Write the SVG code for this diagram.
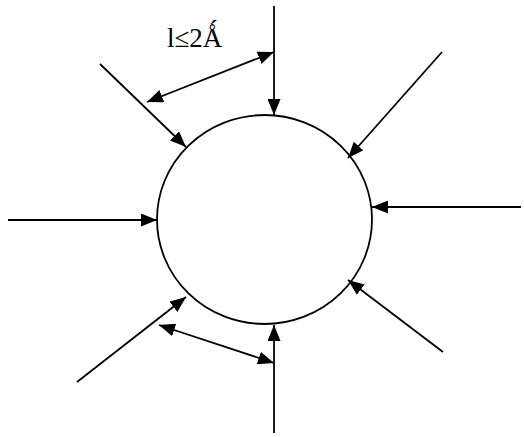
<svg xmlns="http://www.w3.org/2000/svg" width="524" height="437" viewBox="0 0 524 437">
<style>
.c{fill:none;stroke:#000;stroke-width:1.8}
.a{fill:none;stroke:#000;stroke-width:1.8;marker-end:url(#ah)}
.d{fill:none;stroke:#000;stroke-width:1.8;marker-start:url(#ahs);marker-end:url(#ah)}
.t{font-family:"Liberation Serif","Times New Roman",serif;font-size:27px;fill:#000}
</style>
<defs>
<marker id="ah" viewBox="0 0 16 13" refX="16" refY="6.5" markerWidth="16" markerHeight="13" markerUnits="userSpaceOnUse" orient="auto">
<path d="M0,0 L16,6.5 L0,13 Z" fill="#000"/>
</marker>
<marker id="ahs" viewBox="0 0 16 13" refX="0" refY="6.5" markerWidth="16" markerHeight="13" markerUnits="userSpaceOnUse" orient="auto">
<path d="M16,0 L0,6.5 L16,13 Z" fill="#000"/>
</marker>
</defs>
<g id="circle">
<ellipse class="c" cx="264.5" cy="219.5" rx="107.5" ry="104.5"/>
</g>
<g id="label">
<text class="t" x="167" y="47">l≤2Ǻ</text>
</g>
<g id="connectors">
<line class="a" x1="274" y1="6" x2="274" y2="115"/>
<line class="d" x1="147" y1="102" x2="274" y2="52"/>
<line class="a" x1="100" y1="64" x2="186" y2="147"/>
<line class="a" x1="442" y1="52" x2="348" y2="158"/>
<line class="a" x1="8" y1="220" x2="157" y2="220"/>
<line class="a" x1="521" y1="207" x2="372" y2="207"/>
<line class="a" x1="443" y1="352" x2="348" y2="280"/>
<line class="a" x1="77" y1="382" x2="186" y2="297"/>
<line class="d" x1="159" y1="325" x2="274" y2="363"/>
<line class="a" x1="274" y1="433" x2="274" y2="325"/>
</g>
</svg>
